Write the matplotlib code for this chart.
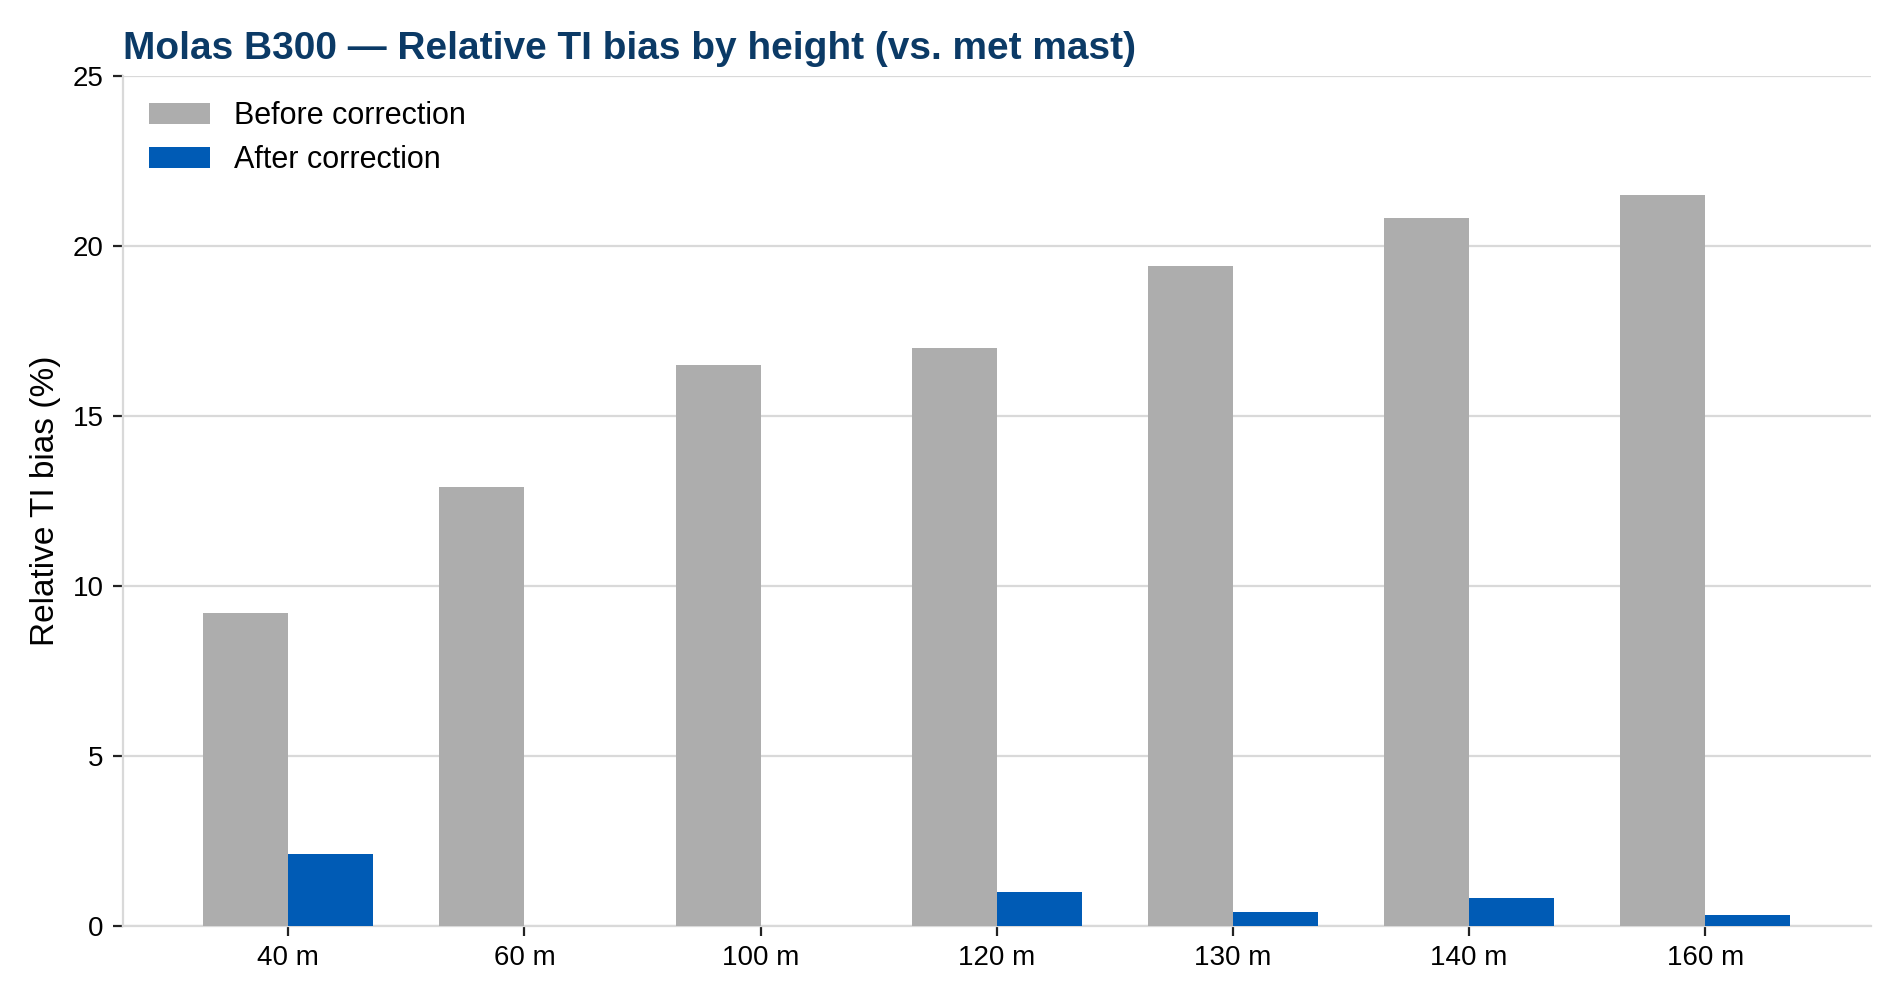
import numpy as np
import matplotlib
matplotlib.use("Agg")
import matplotlib.pyplot as plt

plt.rcParams['font.family'] = ['Liberation Sans', 'DejaVu Sans']

heights = ["40 m", "60 m", "100 m", "120 m", "130 m", "140 m", "160 m"]
before = [9.2, 12.9, 16.5, 17.0, 19.4, 20.8, 21.5]
after = [2.1, np.nan, np.nan, 1.0, 0.4, 0.8, 0.3]

fig = plt.figure(figsize=(9.5, 5), dpi=200)
ax = fig.add_axes([0.0647, 0.0743, 0.9198, 0.8502])

x = np.arange(len(heights))
w = 0.36
ax.bar(x - w / 2, before, width=w, color="#ADADAD", label="Before correction", zorder=3)
ax.bar(x + w / 2, after, width=w, color="#005BB5", label="After correction", zorder=3)

ax.set_xlim(-0.70, len(heights) - 1 + 0.70)
ax.set_ylim(0, 25)
ax.set_yticks([0, 5, 10, 15, 20, 25])
ax.set_xticks(x)
ax.set_xticklabels(heights)
ax.tick_params(axis='both', labelsize=10, length=3.5, width=0.8, color="#222222")
ax.set_ylabel("Relative TI bias (%)", fontsize=12)

ax.grid(axis='y', color="#D9D9D9", linewidth=0.8, zorder=0)
ax.set_axisbelow(True)
for s in ["top", "right"]:
    ax.spines[s].set_visible(False)
for s in ["left", "bottom"]:
    ax.spines[s].set_color("#D9D9D9")
    ax.spines[s].set_linewidth(0.8)

ax.set_title("Molas B300 \u2014 Relative TI bias by height (vs. met mast)",
             loc='left', fontsize=14, fontweight='bold', color="#0B3A66", pad=6)

ax.legend(loc='upper left', frameon=False, fontsize=11, handlelength=2.0,
          handleheight=0.7, borderaxespad=0.45, labelspacing=0.45)

fig.savefig("out.png", dpi=200)
